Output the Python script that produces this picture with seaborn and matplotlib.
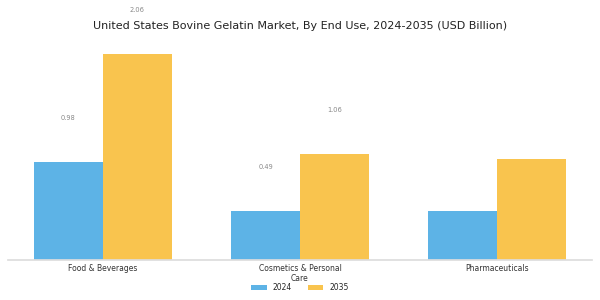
import matplotlib
matplotlib.use("Agg")
import matplotlib.pyplot as plt
import seaborn as sns
import pandas as pd

categories = ["Food & Beverages", "Cosmetics & Personal\nCare", "Pharmaceuticals"]
years = ["2024", "2035"]
values_2024 = [0.98, 0.49, 0.49]
values_2035 = [2.06, 1.06, 1.01]
label_flags = [True, True, False]

df = pd.DataFrame({
    "category": categories * 2,
    "year": [years[0]] * 3 + [years[1]] * 3,
    "value": values_2024 + values_2035,
})

sns.set_theme(style="white")
plt.rcParams["font.family"] = ["DejaVu Sans"]

fig = plt.figure(figsize=(6, 3), dpi=100)
ax = fig.add_axes([8/600, 40/300, 584/600, 220/300])
palette = {"2024": "#5DB3E6", "2035": "#F9C44E"}
sns.barplot(data=df, x="category", y="value", hue="year", palette=palette,
            width=0.7, gap=0, ax=ax, saturation=1, edgecolor="none")

ax.set_xlim(-0.482, 2.482)
ax.set_ylim(0, 2.2)
ax.set_xlabel("")
ax.set_ylabel("")
ax.set_yticks([])
for s in ["top", "right", "left"]:
    ax.spines[s].set_visible(False)
ax.spines["bottom"].set_color("#DDDDDD")
ax.tick_params(axis="x", length=2.5, width=0.6, color="#999999", labelsize=5.5, pad=0.5,
               labelcolor="#333333")
for lbl in ax.get_xticklabels():
    lbl.set_linespacing(1.05)

for cont in ax.containers:
    for i, bar in enumerate(cont):
        if label_flags[i]:
            h = bar.get_height()
            ax.annotate(f"{h:.2f}", (bar.get_x() + bar.get_width()/2, h),
                        xytext=(0, 31.7), textcoords="offset points",
                        ha="center", va="center", fontsize=4.8, color="#888888",
                        annotation_clip=False)

fig.text(0.5, 0.913, "United States Bovine Gelatin Market, By End Use, 2024-2035 (USD Billion)",
         ha="center", va="center", fontsize=8, color="#222222")

ax.legend(loc="center", bbox_to_anchor=(0.5, 1 - 287.5/300), bbox_transform=fig.transFigure,
          ncol=2, frameon=False, fontsize=5.5, handlelength=2.0, handleheight=0.65,
          handletextpad=0.8, columnspacing=2.1, borderpad=0, borderaxespad=0)

fig.savefig("out.png", dpi=100)
